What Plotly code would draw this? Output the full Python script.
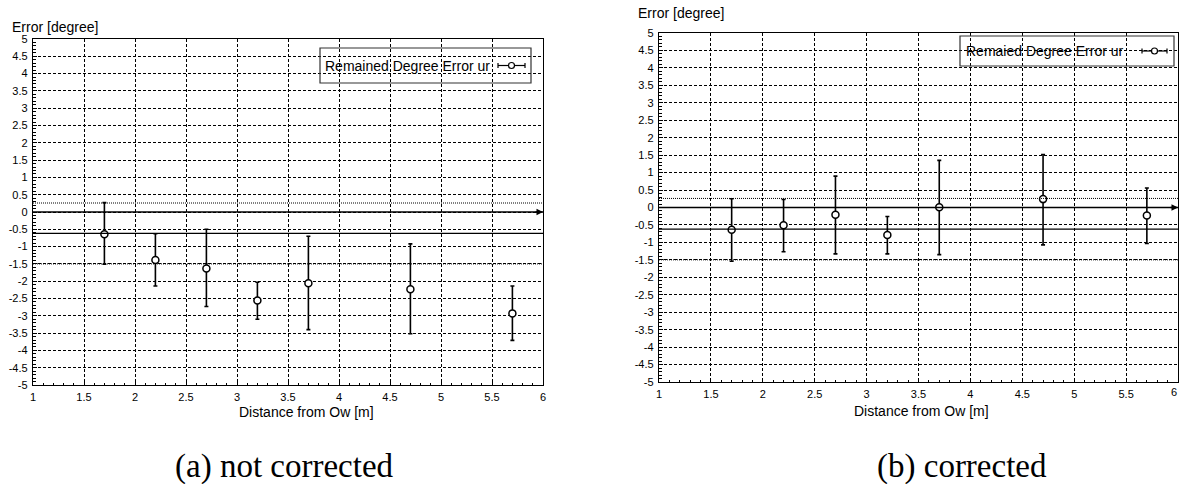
import plotly.graph_objects as go

# ---------------- data ----------------
distance = [1.7, 2.2, 2.7, 3.2, 3.7, 4.7, 5.7]

# (a) not corrected
a_mean = [-0.64, -1.39, -1.63, -2.56, -2.06, -2.23, -2.93]
a_upper = [0.27, -0.63, -0.50, -2.03, -0.70, -0.92, -2.14]
a_lower = [-1.51, -2.14, -2.73, -3.10, -3.40, -3.52, -3.71]

# (b) corrected
b_mean = [-0.64, -0.51, -0.21, -0.79, 0.01, 0.24, -0.23]
b_upper = [0.25, 0.23, 0.90, -0.26, 1.35, 1.52, 0.56]
b_lower = [-1.54, -1.27, -1.33, -1.33, -1.35, -1.07, -1.03]

# horizontal reference lines
ref_solid = [0.0, -0.62]
ref_dotted = [0.26, -1.5]

x_tick_vals = [1, 1.5, 2, 2.5, 3, 3.5, 4, 4.5, 5, 5.5, 6]
x_tick_text = ["1", "1.5", "2", "2.5", "3", "3.5", "4", "4.5", "5", "5.5", "6"]
y_tick_vals = [-5, -4.5, -4, -3.5, -3, -2.5, -2, -1.5, -1, -0.5, 0,
               0.5, 1, 1.5, 2, 2.5, 3, 3.5, 4, 4.5, 5]
y_tick_text = ["-5", "-4.5", "-4", "-3.5", "-3", "-2.5", "-2", "-1.5", "-1", "-0.5", "0",
               "0.5", "1", "1.5", "2", "2.5", "3", "3.5", "4", "4.5", "5"]

legend_a = "Remained Degree Error ur"
legend_b = "Remaied Degree Error ur"
y_title = "Error [degree]"
x_title = "Distance from Ow [m]"
caption_a = "(a) not corrected"
caption_b = "(b) corrected"

# ---------------- layout geometry ----------------
W, H = 1186, 484
SANS = "Liberation Sans, Arial, sans-serif"
SERIF = "Liberation Serif, DejaVu Serif, serif"


def px_x(p):
    return p / W


def px_y(p):
    return 1 - p / H


panels = [
    dict(mean=a_mean, up=a_upper, lo=a_lower, xa="x", ya="y",
         xdom=[px_x(33), px_x(543)], ydom=[px_y(385), px_y(39)],
         legend=legend_a, box=(320, 48, 531, 83), text_x=323, sym=(498, 525),
         ytitle=(10, 27), xtitle=(306, 412), caption=caption_a, cap=(284, 466)),
    dict(mean=b_mean, up=b_upper, lo=b_lower, xa="x2", ya="y2",
         xdom=[px_x(659), px_x(1178)], ydom=[px_y(382), px_y(33)],
         legend=legend_b, box=(960, 36, 1174, 66), text_x=964, sym=(1142, 1167),
         ytitle=(636, 13), xtitle=(921, 411), caption=caption_b, cap=(962, 466)),
]

fig = go.Figure()
shapes = []
annotations = []

for i, p in enumerate(panels):
    err_plus = [u - m for u, m in zip(p["up"], p["mean"])]
    err_minus = [m - l for m, l in zip(p["mean"], p["lo"])]
    fig.add_trace(go.Scatter(
        x=distance, y=p["mean"], mode="markers", xaxis=p["xa"], yaxis=p["ya"],
        showlegend=False,
        marker=dict(symbol="circle", size=7, color="white",
                    line=dict(color="black", width=1.5)),
        error_y=dict(type="data", array=err_plus, arrayminus=err_minus,
                     color="black", thickness=1.6, width=2),
    ))

    xref = p["xa"]
    yref = p["ya"]
    for v in ref_solid:
        shapes.append(dict(type="line", xref=xref + " domain", yref=yref,
                           x0=0, x1=1, y0=v, y1=v,
                           line=dict(color="black", width=1.3), layer="above"))
    for v in ref_dotted:
        shapes.append(dict(type="line", xref=xref + " domain", yref=yref,
                           x0=0, x1=1, y0=v, y1=v,
                           line=dict(color="black", width=1, dash="1px,1px"),
                           layer="above"))
    # arrow head at right end of zero line
    annotations.append(dict(x=6, y=0, xref=xref, yref=yref, ax=-9, ay=0,
                            axref="pixel", ayref="pixel", text="",
                            showarrow=True, arrowhead=2, arrowsize=1,
                            arrowwidth=1.3, arrowcolor="black"))

    # legend box
    x0, y0, x1, y1 = p["box"]
    shapes.append(dict(type="rect", xref="paper", yref="paper",
                       x0=px_x(x0), x1=px_x(x1), y0=px_y(y1), y1=px_y(y0),
                       line=dict(color="#333", width=1.2), layer="above"))
    yc = (y0 + y1) / 2
    annotations.append(dict(x=px_x(p["text_x"]), y=px_y(yc), xref="paper", yref="paper",
                            text=p["legend"], showarrow=False, xanchor="left",
                            yanchor="middle", font=dict(family=SANS, size=14, color="black")))
    s0, s1 = p["sym"]
    shapes.append(dict(type="line", xref="paper", yref="paper",
                       x0=px_x(s0), x1=px_x(s1), y0=px_y(yc), y1=px_y(yc),
                       line=dict(color="black", width=1.2), layer="above"))
    for sx in (s0, s1):
        shapes.append(dict(type="line", xref="paper", yref="paper",
                           x0=px_x(sx), x1=px_x(sx), y0=px_y(yc - 2.5), y1=px_y(yc + 2.5),
                           line=dict(color="black", width=1.2), layer="above"))
    sc = (s0 + s1) / 2
    shapes.append(dict(type="circle", xref="paper", yref="paper",
                       x0=px_x(sc - 3), x1=px_x(sc + 3), y0=px_y(yc + 3), y1=px_y(yc - 3),
                       fillcolor="white", line=dict(color="black", width=1.2), layer="above"))

    # titles
    tx, ty = p["ytitle"]
    annotations.append(dict(x=px_x(tx), y=px_y(ty), xref="paper", yref="paper",
                            text=y_title, showarrow=False, xanchor="left", yanchor="middle",
                            font=dict(family=SANS, size=14, color="black")))
    tx, ty = p["xtitle"]
    annotations.append(dict(x=px_x(tx), y=px_y(ty), xref="paper", yref="paper",
                            text=x_title, showarrow=False, xanchor="center", yanchor="middle",
                            font=dict(family=SANS, size=14, color="black")))
    tx, ty = p["cap"]
    annotations.append(dict(x=px_x(tx), y=px_y(ty), xref="paper", yref="paper",
                            text=p["caption"], showarrow=False, xanchor="center",
                            yanchor="middle",
                            font=dict(family=SERIF, size=33, color="black")))

# the last x tick label of panel (b) sits at the page edge, where it gets hidden:
# draw it as a text label anchored just inside the edge instead
right_ticktext = x_tick_text[:-1] + [""]
annotations.append(dict(x=x_tick_vals[-1], y=0, xref="x2", yref="y2 domain",
                        text=x_tick_text[-1], showarrow=False, xanchor="right",
                        yanchor="top", yshift=-2, xshift=1,
                        font=dict(family=SANS, size=11, color="black")))

axis_common = dict(showgrid=True, gridcolor="black", gridwidth=1, griddash="3px,2px",
                   showline=True, linecolor="black", linewidth=1.3, mirror=True,
                   zeroline=False, ticks="inside", ticklen=4, tickcolor="black",
                   automargin=False,
                   tickfont=dict(family=SANS, size=11, color="black"))

for i, p in enumerate(panels):
    sfx = "" if i == 0 else str(i + 1)
    fig.update_layout(**{
        "xaxis" + sfx: dict(axis_common, domain=p["xdom"], range=[1, 6],
                            tickvals=x_tick_vals,
                            ticktext=x_tick_text if i == 0 else right_ticktext,
                            anchor="y" + sfx, ticklabelstandoff=2,
                            minor=dict(ticks="inside", ticklen=2, dtick=0.1,
                                       tickcolor="black", showgrid=False)),
        "yaxis" + sfx: dict(axis_common, domain=p["ydom"], range=[-5, 5],
                            tickvals=y_tick_vals, ticktext=y_tick_text,
                            anchor="x" + sfx, ticklabelstandoff=2,
                            minor=dict(ticks="inside", ticklen=3, dtick=0.1,
                                       tickcolor="black", showgrid=False)),
    })

fig.update_layout(width=W, height=H, margin=dict(l=0, r=0, t=0, b=0),
                  paper_bgcolor="white", plot_bgcolor="white",
                  shapes=shapes, annotations=annotations, showlegend=False)

fig.write_html("out.html", config={"displayModeBar": False},
               post_script="document.body.style.margin='0';document.body.style.overflow='hidden';")
